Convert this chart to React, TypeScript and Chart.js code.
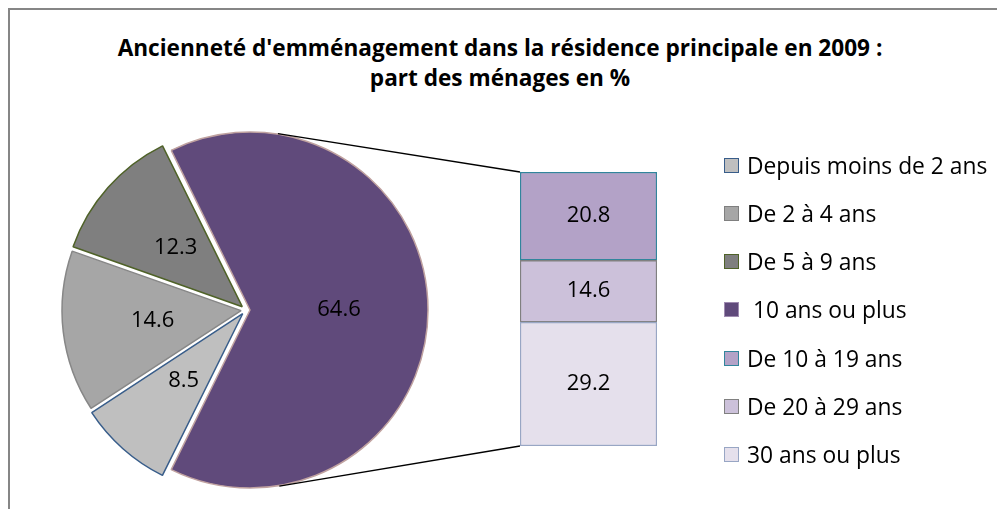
import React, { useEffect, useRef } from "react";
import { Chart, registerables } from "chart.js";

Chart.register(...registerables);

// ---- data ----
const titleLines = [
  "Ancienneté d'emménagement dans la résidence principale en 2009 :",
  "part des ménages en %",
];
const pieLabels = ["Depuis moins de 2 ans", "De 2 à 4 ans", "De 5 à 9 ans", " 10 ans ou plus"];
const pieValues = [8.5, 14.6, 12.3, 64.6];
// bar segments, bottom to top
const barLabels = ["30 ans ou plus", "De 20 à 29 ans", "De 10 à 19 ans"];
const barValues = [29.2, 14.6, 20.8];
const legendLabels = [
  "Depuis moins de 2 ans",
  "De 2 à 4 ans",
  "De 5 à 9 ans",
  " 10 ans ou plus",
  "De 10 à 19 ans",
  "De 20 à 29 ans",
  "30 ans ou plus",
];

// ---- styles ----
const FONT = "'Open Sans', 'Liberation Sans', sans-serif";
const pieFill = ["#BFBFBF", "#A6A6A6", "#7F7F7F", "#604A7B"];
const pieBorder = ["#385D8A", "#878787", "#4F6228", "#C0A2A0"];
const barFill = ["#E5E0EC", "#CCC1DA", "#B3A2C7"];
const barBorder = ["#98A6C4", "#808080", "#31859C"];
const legendFill = ["#BFBFBF", "#A6A6A6", "#7F7F7F", "#604A7B", "#B3A2C7", "#CCC1DA", "#E5E0EC"];
const legendBorder = ["#385D8A", "#7F7F7F", "#4F6228", "#9F8BB0", "#31859C", "#808080", "#98A6C4"];

const W = 989;
const H = 501;
const PIE_SIZE = 400;
const GRAY_LEFT = 38;
const PURPLE_LEFT = 42;
const PIE_TOP = 102;
const GRAY_OFFSET = 20;
const TRANSPARENT = "rgba(0,0,0,0)";

const pieTotal = pieValues.reduce((a, b) => a + b, 0);
const barTotal = barValues.reduce((a, b) => a + b, 0);
const rotation = 90 + (pieValues[3] / pieTotal) * 180;

function arcLabelPlugin(indices: number[], shift: number) {
  return {
    id: "arcLabels",
    afterDatasetsDraw(chart: any) {
      const ctx = chart.ctx;
      const meta = chart.getDatasetMeta(0);
      ctx.save();
      ctx.font = `22px ${FONT}`;
      ctx.fillStyle = "#000";
      ctx.textAlign = "center";
      ctx.textBaseline = "middle";
      indices.forEach((i) => {
        const el: any = meta.data[i];
        const mid = (el.startAngle + el.endAngle) / 2;
        const rr = el.outerRadius / 2 + shift;
        ctx.fillText(String(pieValues[i]), el.x + Math.cos(mid) * rr, el.y + Math.sin(mid) * rr);
      });
      ctx.restore();
    },
  };
}

export default function App() {
  const grayRef = useRef<HTMLCanvasElement>(null);
  const purpleRef = useRef<HTMLCanvasElement>(null);
  const barRef = useRef<HTMLCanvasElement>(null);

  useEffect(() => {
    const baseOpts: any = {
      responsive: false,
      animation: false,
      events: [],
      rotation,
      layout: { padding: 0 },
      plugins: { legend: { display: false }, tooltip: { enabled: false }, title: { display: false } },
    };

    const grayChart = new Chart(grayRef.current!, {
      type: "pie",
      data: {
        labels: pieLabels,
        datasets: [
          {
            data: pieValues,
            backgroundColor: pieFill.map((c, i) => (i === 3 ? TRANSPARENT : c)),
            borderColor: pieBorder.map((c, i) => (i === 3 ? TRANSPARENT : c)),
            borderWidth: [1.5, 1.5, 1.5, 0],
            offset: [GRAY_OFFSET, GRAY_OFFSET, GRAY_OFFSET, 0],
            radius: 178,
          } as any,
        ],
      },
      options: baseOpts,
      plugins: [arcLabelPlugin([0, 1, 2], GRAY_OFFSET / 4)],
    });

    const purpleChart = new Chart(purpleRef.current!, {
      type: "pie",
      data: {
        labels: pieLabels,
        datasets: [
          {
            data: pieValues,
            backgroundColor: pieFill.map((c, i) => (i === 3 ? c : TRANSPARENT)),
            borderColor: pieBorder.map((c, i) => (i === 3 ? c : TRANSPARENT)),
            borderWidth: [0, 0, 0, 1.5],
            radius: 178,
          } as any,
        ],
      },
      options: baseOpts,
      plugins: [arcLabelPlugin([3], 0)],
    });

    const connectorPlugin = {
      id: "connectors",
      afterDatasetsDraw(chart: any) {
        const el: any = purpleChart.getDatasetMeta(0).data[3];
        if (!el) return;
        const cx = PURPLE_LEFT + el.x;
        const cy = PIE_TOP + el.y;
        const r = el.outerRadius + 0.5;
        const topEl: any = chart.getDatasetMeta(2).data[0];
        const botEl: any = chart.getDatasetMeta(0).data[0];
        const left = topEl.x - topEl.width / 2;
        const pts = [
          { px: left, py: topEl.y, sign: -1 },
          { px: left, py: botEl.base, sign: 1 },
        ];
        const ctx = chart.ctx;
        ctx.save();
        ctx.strokeStyle = "#000";
        ctx.lineWidth = 1.3;
        pts.forEach(({ px, py, sign }) => {
          const dx = px - cx;
          const dy = py - cy;
          const d = Math.sqrt(dx * dx + dy * dy);
          const phi = Math.atan2(dy, dx);
          const alpha = Math.acos(r / d);
          const a = phi + sign * alpha;
          ctx.beginPath();
          ctx.moveTo(cx + r * Math.cos(a), cy + r * Math.sin(a));
          ctx.lineTo(px, py);
          ctx.stroke();
        });
        ctx.restore();
      },
    };

    const barLabelPlugin = {
      id: "barLabels",
      afterDatasetsDraw(chart: any) {
        const ctx = chart.ctx;
        ctx.save();
        ctx.font = `22px ${FONT}`;
        ctx.fillStyle = "#000";
        ctx.textAlign = "center";
        ctx.textBaseline = "middle";
        barValues.forEach((v, i) => {
          const el: any = chart.getDatasetMeta(i).data[0];
          ctx.fillText(String(v), el.x, (el.y + el.base) / 2);
        });
        ctx.restore();
      },
    };

    const barChart = new Chart(barRef.current!, {
      type: "bar",
      data: {
        labels: [pieLabels[3].trim()],
        datasets: barValues.map((v, i) => ({
          label: barLabels[i],
          data: [v],
          backgroundColor: barFill[i],
          borderColor: barBorder[i],
          borderWidth: 1.5,
          borderSkipped: false,
          barPercentage: 1,
          categoryPercentage: 1,
        })) as any,
      },
      options: {
        responsive: false,
        animation: false,
        events: [],
        layout: { padding: { left: 512, right: W - 649, top: 164, bottom: H - 438 } },
        scales: {
          x: { stacked: true, display: false },
          y: { stacked: true, display: false, min: 0, max: barTotal },
        },
        plugins: { legend: { display: false }, tooltip: { enabled: false }, title: { display: false } },
      } as any,
      plugins: [connectorPlugin, barLabelPlugin],
    });

    return () => {
      barChart.destroy();
      purpleChart.destroy();
      grayChart.destroy();
    };
  }, []);

  const abs: React.CSSProperties = { position: "absolute" };

  return (
    <div style={{ position: "relative", width: W, height: H, background: "#fff", fontFamily: FONT }}>
      <div
        style={{
          ...abs,
          left: 0,
          top: 0,
          width: W,
          height: H,
          boxSizing: "border-box",
          borderTop: "2px solid #868686",
          borderLeft: "2px solid #868686",
        }}
      />
      <div
        style={{
          ...abs,
          left: 0,
          top: 25,
          width: 984,
          textAlign: "center",
          fontWeight: 700,
          fontSize: 22.6,
          lineHeight: "30px",
          color: "#000",
        }}
      >
        {titleLines.map((t) => (
          <div key={t}>{t}</div>
        ))}
      </div>
      <canvas ref={grayRef} width={PIE_SIZE} height={PIE_SIZE} style={{ ...abs, left: GRAY_LEFT, top: PIE_TOP }} />
      <canvas ref={purpleRef} width={PIE_SIZE} height={PIE_SIZE} style={{ ...abs, left: PURPLE_LEFT, top: PIE_TOP }} />
      <canvas ref={barRef} width={W} height={H} style={{ ...abs, left: 0, top: 0, pointerEvents: "none" }} />
      {legendLabels.map((lab, i) => (
        <div
          key={lab}
          style={{
            ...abs,
            left: 716,
            top: 157 + i * 48.3 - 15,
            height: 30,
            display: "flex",
            alignItems: "center",
            whiteSpace: "pre",
            fontSize: 22.8,
            color: "#000",
          }}
        >
          <div
            style={{
              width: 15,
              height: 15,
              boxSizing: "border-box",
              border: `1.5px solid ${legendBorder[i]}`,
              background: legendFill[i],
              marginRight: 8,
              flex: "none",
            }}
          />
          <span>{lab}</span>
        </div>
      ))}
    </div>
  );
}
